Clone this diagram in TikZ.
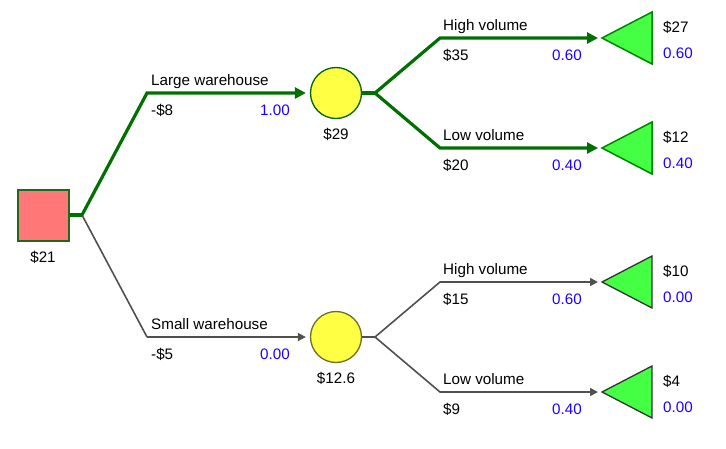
\documentclass[tikz,border=0pt]{standalone}
\usepackage{fontspec}
\setmainfont{Liberation Sans}
\usetikzlibrary{arrows.meta}
\definecolor{gline}{RGB}{0,112,0}
\definecolor{kline}{RGB}{80,80,80}
\definecolor{probc}{RGB}{30,0,255}
\definecolor{sqfill}{RGB}{255,119,119}
\definecolor{sqdraw}{RGB}{30,105,30}
\definecolor{cfill}{RGB}{255,255,68}
\definecolor{tfill}{RGB}{68,255,68}
\definecolor{olive2}{RGB}{110,110,40}
\tikzset{
  txt/.style={inner sep=0pt, font=\fontsize{15.2}{18}\selectfont},
  lab/.style={txt, anchor=base west},
  val/.style={txt, anchor=base west},
  prob/.style={txt, anchor=base east, text=probc},
  tprob/.style={txt, anchor=base west, text=probc},
  decbox/.style={draw=sqdraw, fill=sqfill, line width=2pt, minimum size=51pt, inner sep=0pt},
  chancenode/.style={circle, fill=cfill, line width=1.3pt, minimum size=51pt, inner sep=0pt},
  gbranch/.style={gline, line width=3.2pt, line join=miter, -{Triangle[length=11pt,width=11pt]}, shorten >=4pt},
  kbranch/.style={kline, line width=1.6pt, -{Triangle[length=8pt,width=8pt]}, shorten >=4pt},
  gtri/.style={draw=gline!85!green, fill=tfill, line width=1.5pt, line join=miter},
  ktri/.style={draw=black!80, fill=tfill, line width=1.3pt, line join=miter},
}
\begin{document}
\begin{tikzpicture}[x=1pt,y=-1pt]
\useasboundingbox (0,0) rectangle (726,448);
% decision node
\node[decbox] (d) at (43,215) {};
\node[txt, anchor=base] (dv) at (43,262) {\$21};
\coordinate (ds) at (82,215);
\coordinate (c1) at (147,93);
\coordinate (c2) at (147,337);
% chance nodes
\node[chancenode, draw=gline!90!black] (e1) at (336,93) {};
\node[chancenode, draw=olive2] (e2) at (336,337) {};
\node[txt, anchor=base] (e1v) at (336,139) {\$29};
\node[txt, anchor=base] (e2v) at (336,383) {\$12.6};
% branches from decision
\draw[kline, line width=1.6pt] (ds) -- (c2);
\draw[kbranch] (c2) -- (e2.west);
\draw[gline, line width=3.2pt] (d.east) -- (ds);
\draw[gbranch] (ds) -- (c1) -- (e1.west);
\node[lab] (l1) at (151,85) {Large warehouse};
\node[val] (v1) at (151,115) {-\$8};
\node[prob] (p1) at (290,115) {1.00};
\node[lab] (l2) at (151,329) {Small warehouse};
\node[val] (v2) at (151,359) {-\$5};
\node[prob] (p2) at (290,359) {0.00};
% terminal triangles
\coordinate (t1) at (602,38);
\coordinate (t2) at (602,148);
\coordinate (t3) at (602,282);
\coordinate (t4) at (602,392);
\draw[gtri] (t1) -- ++(50,-26) -- ++(0,52) -- cycle;
\draw[gtri] (t2) -- ++(50,-26) -- ++(0,52) -- cycle;
\draw[ktri] (t3) -- ++(50,-26) -- ++(0,52) -- cycle;
\draw[ktri] (t4) -- ++(50,-26) -- ++(0,52) -- cycle;
% corners of second level
\coordinate (s1) at (375,93);
\coordinate (s2) at (375,337);
\coordinate (k1) at (440,38);
\coordinate (k2) at (440,148);
\coordinate (k3) at (440,282);
\coordinate (k4) at (440,392);
\draw[gline, line width=3.2pt] (e1.east) -- (s1);
\draw[gbranch] (s1) -- (k1) -- (t1);
\draw[gbranch] (s1) -- (k2) -- (t2);
\draw[kline, line width=1.6pt] (e2.east) -- (s2);
\draw[kbranch] (s2) -- (k3) -- (t3);
\draw[kbranch] (s2) -- (k4) -- (t4);
% second-level labels
\node[lab] (l3) at (443,30) {High volume};
\node[val] (v3) at (443,60) {\$35};
\node[prob] (p3) at (582,60) {0.60};
\node[lab] (l4) at (443,140) {Low volume};
\node[val] (v4) at (443,170) {\$20};
\node[prob] (p4) at (582,170) {0.40};
\node[lab] (l5) at (443,274) {High volume};
\node[val] (v5) at (443,304) {\$15};
\node[prob] (p5) at (582,304) {0.60};
\node[lab] (l6) at (443,384) {Low volume};
\node[val] (v6) at (443,414) {\$9};
\node[prob] (p6) at (582,414) {0.40};
% terminal values
\node[val] (tv1) at (663,32) {\$27};
\node[tprob] (tp1) at (663,58) {0.60};
\node[val] (tv2) at (663,142) {\$12};
\node[tprob] (tp2) at (663,168) {0.40};
\node[val] (tv3) at (663,276) {\$10};
\node[tprob] (tp3) at (663,302) {0.00};
\node[val] (tv4) at (663,386) {\$4};
\node[tprob] (tp4) at (663,412) {0.00};
\end{tikzpicture}
\end{document}
